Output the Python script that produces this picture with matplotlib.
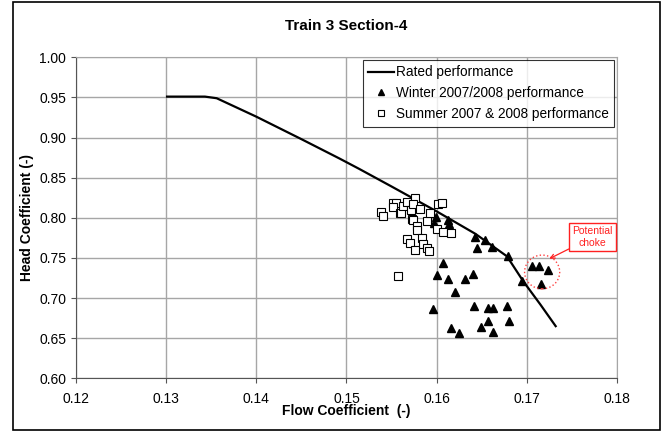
import matplotlib
matplotlib.use("Agg")
import matplotlib.pyplot as plt
from matplotlib.patches import Ellipse, Rectangle
import numpy as np

plt.rcParams['font.family'] = ['Liberation Sans', 'DejaVu Sans']

# rated performance curve
rated_x = [0.1301, 0.1320, 0.1343, 0.1356, 0.1400, 0.1450, 0.1492, 0.1514, 0.1550,
           0.1600, 0.1643, 0.1678, 0.1696, 0.1715, 0.1732]
rated_y = [0.951, 0.951, 0.951, 0.949, 0.926, 0.898, 0.874, 0.861, 0.839,
           0.808, 0.780, 0.752, 0.721, 0.692, 0.665]

# winter 2007/2008
winter_x = [0.1599, 0.1597, 0.1613, 0.1614, 0.1643, 0.1654, 0.1645, 0.1661, 0.1679,
            0.1695, 0.1607, 0.1600, 0.1613, 0.1631, 0.1640, 0.1620, 0.1596, 0.1641,
            0.1657, 0.1662, 0.1678, 0.1657, 0.1680, 0.1616, 0.1625, 0.1649, 0.1663,
            0.1706, 0.1713, 0.1723, 0.1716]
winter_y = [0.801, 0.794, 0.797, 0.792, 0.776, 0.772, 0.7625, 0.763, 0.753,
            0.721, 0.744, 0.729, 0.724, 0.724, 0.730, 0.708, 0.686, 0.690,
            0.6875, 0.6875, 0.690, 0.672, 0.672, 0.6625, 0.656, 0.664, 0.6575,
            0.7404, 0.7404, 0.7354, 0.718]

# summer 2007 & 2008
summer_x = [0.1538, 0.1541, 0.1552, 0.1555, 0.1552, 0.1559, 0.1561, 0.1563, 0.1567,
            0.1572, 0.1576, 0.1574, 0.1581, 0.1573, 0.1574, 0.1578, 0.1578, 0.1589,
            0.1593, 0.1601, 0.1606, 0.1600, 0.1607, 0.1616, 0.1567, 0.1570, 0.1584,
            0.1585, 0.1576, 0.1589, 0.1592, 0.1557]
summer_y = [0.8075, 0.802, 0.819, 0.819, 0.814, 0.806, 0.806, 0.815, 0.820,
            0.810, 0.825, 0.817, 0.811, 0.798, 0.797, 0.790, 0.785, 0.796,
            0.806, 0.8175, 0.819, 0.786, 0.782, 0.781, 0.774, 0.769, 0.775,
            0.767, 0.760, 0.7625, 0.759, 0.727]

x_ticks = [0.12, 0.13, 0.14, 0.15, 0.16, 0.17, 0.18]
y_ticks = [0.60, 0.65, 0.70, 0.75, 0.80, 0.85, 0.90, 0.95, 1.00]

fig = plt.figure(figsize=(6.62, 4.34), dpi=100)
ax = fig.add_axes([0.1148, 0.1283, 0.8172, 0.7397])

# chart-area border
fig.patches.append(Rectangle((13/662, 4/434), 647/662, 428/434, transform=fig.transFigure,
                             fill=False, edgecolor='black', linewidth=1.2))

ax.plot(rated_x, rated_y, color='black', linewidth=1.6, label='Rated performance', zorder=3)
ax.plot(winter_x, winter_y, linestyle='none', marker='^', markersize=6, color='black',
        label='Winter 2007/2008 performance', zorder=4)
ax.plot(summer_x, summer_y, linestyle='none', marker='s', markersize=5.5,
        markerfacecolor='white', markeredgecolor='black', markeredgewidth=0.8,
        label='Summer 2007 & 2008 performance', zorder=4)

ax.set_xlim(0.12, 0.18)
ax.set_ylim(0.60, 1.00)
ax.set_xticks(x_ticks)
ax.set_yticks(y_ticks)
ax.set_xticklabels([f'{v:.2f}' for v in x_ticks])
ax.set_yticklabels([f'{v:.2f}' for v in y_ticks])
ax.tick_params(labelsize=10, length=3.5, width=0.8, color='#555555')
ax.tick_params(axis='x', pad=6)
ax.tick_params(axis='y', pad=3.5)
ax.grid(True, color='#a6a6a6', linewidth=1.0)
ax.set_axisbelow(True)
for side in ['top', 'right']:
    ax.spines[side].set_color('#a6a6a6')
for side in ['left', 'bottom']:
    ax.spines[side].set_color('#555555')

ax.set_title('Train 3 Section-4', fontsize=11, fontweight='bold', pad=20)
ax.set_xlabel('Flow Coefficient  (-)', fontsize=10, fontweight='bold', labelpad=-1)
ax.set_ylabel('Head Coefficient (-)', fontsize=10, fontweight='bold', labelpad=4)

leg = ax.legend(loc='upper right', fontsize=9.8, frameon=True, fancybox=False,
                edgecolor='black', borderaxespad=0.2, handlelength=1.9,
                handletextpad=0.15, labelspacing=0.5, borderpad=0.4, markerscale=0.75)
leg.get_frame().set_linewidth(0.8)

# potential choke annotation
ax.add_patch(Ellipse((0.1717, 0.7325), 0.0039, 0.042, fill=False, edgecolor='#ff4040',
                     linestyle=':', linewidth=1.0, zorder=5))
ax.annotate('Potential\nchoke', xy=(0.1725, 0.749), xytext=(0.1773, 0.776),
            fontsize=7.5, color='#ff2020', ha='center', va='center',
            bbox=dict(boxstyle='square,pad=0.3', facecolor='white', edgecolor='#ff2020', lw=1),
            arrowprops=dict(arrowstyle='->', color='#ff2020', lw=0.9,
                            shrinkA=0, shrinkB=0), zorder=6)

fig.savefig('out.png', dpi=100)
